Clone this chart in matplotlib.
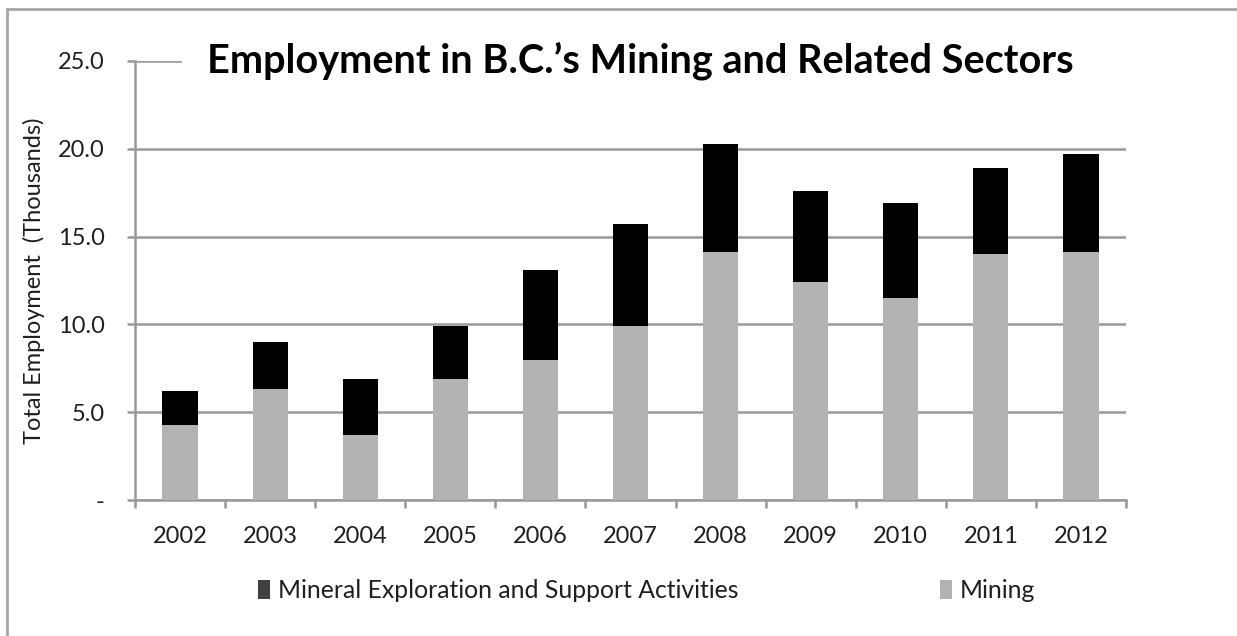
import numpy as np
import matplotlib.pyplot as plt
from matplotlib.patches import Rectangle, Patch

years = ['2002', '2003', '2004', '2005', '2006', '2007', '2008', '2009', '2010', '2011', '2012']
mining = [4.3, 6.3, 3.7, 6.9, 8.0, 9.9, 14.1, 12.4, 11.5, 14.0, 14.1]
total = [6.2, 9.0, 6.9, 9.9, 13.1, 15.7, 20.3, 17.6, 16.9, 18.9, 19.7]
exploration = [t - m for t, m in zip(total, mining)]

plt.rcParams['font.family'] = ['Lato', 'DejaVu Sans']
txt = '#1f1f1f'
grey = '#999999'
fs = 17

fig = plt.figure(figsize=(12.37, 6.36), dpi=100)
ax = fig.add_axes([0.1091, 0.2138, 0.8012, 0.6903])

x = np.arange(len(years))
ax.bar(x, mining, width=0.39, color='#b3b3b3', zorder=3)
ax.bar(x, exploration, width=0.39, bottom=mining, color='black', zorder=3)

ax.set_xlim(-0.5, len(years) - 0.5)
ax.set_ylim(0, 25)
ax.set_yticks([0, 5, 10, 15, 20, 25])
ax.set_yticklabels(['-', '5.0', '10.0', '15.0', '20.0', '25.0'])
ax.yaxis.grid(True, color=grey, linewidth=1.8, zorder=0)
ax.tick_params(axis='y', direction='out', length=6, width=1.8, color=grey,
               pad=16, labelsize=fs, labelcolor=txt)

ax.set_xticks(x)
ax.set_xticklabels(years)
ax.set_xticks(np.arange(-0.5, len(years)), minor=True)
ax.tick_params(axis='x', which='major', length=0, pad=19, labelsize=fs, labelcolor=txt)
ax.tick_params(axis='x', which='minor', direction='out', length=6, width=1.8, color=grey)

for s in ['top', 'right']:
    ax.spines[s].set_visible(False)
for s in ['left', 'bottom']:
    ax.spines[s].set_color(grey)
    ax.spines[s].set_linewidth(1.8)

ax.set_ylabel('Total Employment  (Thousands)', fontsize=fs, color=txt, labelpad=9)

# white band behind the title hides the top gridline
fig.patches.append(Rectangle((182 / 1237, (636 - 78) / 636), (1140 - 182) / 1237, 36 / 636,
                             transform=fig.transFigure, facecolor='white',
                             edgecolor='none', zorder=2))
fig.text(0.518, 0.904, 'Employment in B.C.\u2019s Mining and Related Sectors',
         fontsize=28.5, fontweight='bold', color='black', ha='center', va='center',
         zorder=5)

handles = [Patch(facecolor='#404040', edgecolor='none'),
           Patch(facecolor='#b3b3b3', edgecolor='none')]
fig.legend(handles, ['Mineral Exploration and Support Activities', 'Mining'],
           loc='center', bbox_to_anchor=(0.5227, 0.071), ncol=2, frameon=False,
           fontsize=17.8, handlelength=0.5, handleheight=0.8, handletextpad=0.3,
           columnspacing=8.15, labelcolor=txt)

# outer chart frame (top and left edges visible)
fig.patches.append(Rectangle((7 / 1237, -0.1), 1.2, (636 - 9) / 636 + 0.1,
                             transform=fig.transFigure, fill=False,
                             edgecolor='#a6a6a6', linewidth=2))

fig.savefig('out.png', dpi=100)
